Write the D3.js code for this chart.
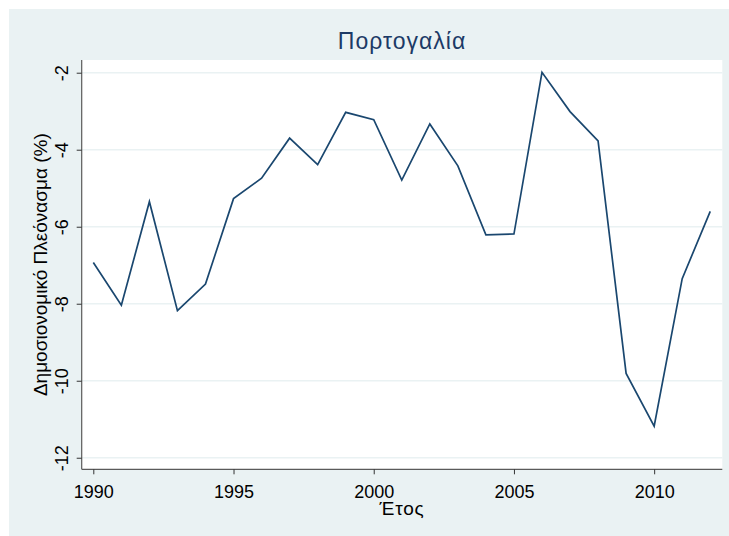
<!doctype html>
<html>
<head>
<meta charset="utf-8">
<title>Πορτογαλία</title>
<script src="https://d3js.org/d3.v7.min.js"></script>
<style>
    body { margin: 0; background: #fff; }
    text { font-family: "Liberation Sans", Arial, sans-serif; }
</style>
</head>
<body>
<script>
// data
const years = [1990, 1991, 1992, 1993, 1994, 1995, 1996, 1997, 1998, 1999, 2000,
               2001, 2002, 2003, 2004, 2005, 2006, 2007, 2008, 2009, 2010, 2011, 2012];
const balance = [-6.93, -8.04, -5.35, -8.18, -7.49, -5.27, -4.74, -3.70, -4.39, -3.03, -3.22,
                 -4.79, -3.33, -4.42, -6.21, -6.19, -1.99, -3.01, -3.77, -9.81, -11.18, -7.35, -5.60];
const xTicks = [1990, 1995, 2000, 2005, 2010];
const yTicks = [-2, -4, -6, -8, -10, -12];
const title = "Πορτογαλία";
const xTitle = "Έτος";
const yTitle = "Δημοσιονομικό Πλεόνασμα (%)";

const w = 729, h = 536;
const pLeft = 81.7, pRight = 722.3, pTop = 60, pBottom = 469.3;

const svg = d3.select("body").append("svg")
    .attr("width", w)
    .attr("height", h);

// outer background
svg.append("rect")
    .attr("x", 9).attr("y", 9)
    .attr("width", w - 9).attr("height", h - 9)
    .attr("fill", "#eaf2f3");

// plot region
svg.append("rect")
    .attr("x", pLeft).attr("y", pTop)
    .attr("width", pRight - pLeft).attr("height", pBottom - pTop)
    .attr("fill", "#fff");

const x = d3.scaleLinear().domain([1989.586, 2012.43]).range([pLeft, pRight]);
const y = d3.scaleLinear().domain([-12.30, -1.67]).range([pBottom, pTop]);

// gridlines
svg.append("g")
    .selectAll("line")
    .data(yTicks)
    .enter()
    .append("line")
    .attr("x1", pLeft).attr("x2", pRight)
    .attr("y1", d => y(d)).attr("y2", d => y(d))
    .attr("stroke", "#eaf2f3")
    .attr("stroke-width", 1.6);

// line
const line = d3.line()
    .x((d, i) => x(years[i]))
    .y(d => y(d));

svg.append("path")
    .datum(balance)
    .attr("d", line)
    .attr("fill", "none")
    .attr("stroke", "#1a476f")
    .attr("stroke-width", 1.7)
    .attr("stroke-linejoin", "miter");

// x axis
const xAxis = d3.axisBottom(x).tickValues(xTicks).tickFormat(d3.format("d"))
    .tickSize(5).tickSizeOuter(0).tickPadding(11);
const gx = svg.append("g")
    .attr("transform", "translate(0," + pBottom + ")")
    .call(xAxis);
gx.select(".domain").attr("stroke", "#5a5a5a").attr("stroke-width", 1.2)
    .attr("d", "M" + pLeft + ",0H" + pRight);
gx.selectAll(".tick line").attr("stroke", "#333");
gx.selectAll(".tick text")
    .attr("font-size", 18)
    .attr("fill", "#000")
    .style("font-family", "'Liberation Sans', Arial, sans-serif");

// y axis
const yAxis = d3.axisLeft(y).tickValues(yTicks).tickFormat(d => d)
    .tickSize(5).tickSizeOuter(0).tickPadding(0);
const gy = svg.append("g")
    .attr("transform", "translate(" + pLeft + ",0)")
    .call(yAxis);
gy.select(".domain").attr("stroke", "#5a5a5a").attr("stroke-width", 1.2)
    .attr("d", "M0," + pTop + "V" + pBottom);
gy.selectAll(".tick line").attr("stroke", "#333");
gy.selectAll(".tick text")
    .attr("font-size", 18)
    .attr("fill", "#000")
    .attr("x", 0).attr("dy", 0)
    .attr("text-anchor", "middle")
    .attr("transform", "translate(-13.5,0) rotate(-90)")
    .style("font-family", "'Liberation Sans', Arial, sans-serif");

// titles
svg.append("text")
    .attr("x", (pLeft + pRight) / 2)
    .attr("y", 49)
    .attr("text-anchor", "middle")
    .attr("font-size", 23)
    .attr("letter-spacing", 1)
    .attr("fill", "#1c3a66")
    .text(title);

svg.append("text")
    .attr("x", (pLeft + pRight) / 2)
    .attr("y", 515)
    .attr("text-anchor", "middle")
    .attr("font-size", 19)
    .attr("letter-spacing", 0.8)
    .attr("fill", "#000")
    .text(xTitle);

svg.append("text")
    .attr("transform", "translate(47," + (pTop + pBottom) / 2 + ") rotate(-90)")
    .attr("text-anchor", "middle")
    .attr("font-size", 19)
    .attr("fill", "#000")
    .text(yTitle);
</script>
</body>
</html>
